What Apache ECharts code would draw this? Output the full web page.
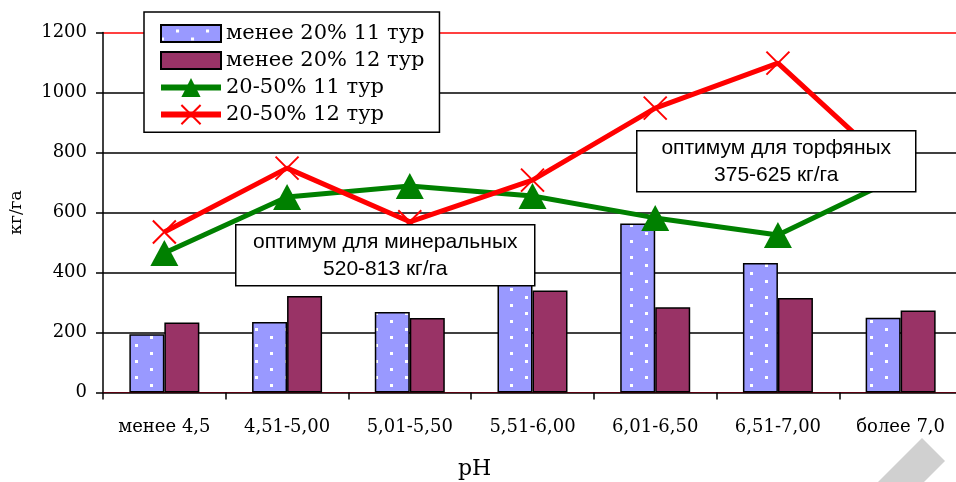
<!DOCTYPE html>
<html>
<head>
<meta charset="utf-8">
<script src="https://cdn.jsdelivr.net/npm/echarts@6/dist/echarts.min.js"></script>
<style>
html,body{margin:0;padding:0;background:#fff;}
#chart{width:956px;height:482px;}
</style>
</head>
<body>
<div id="chart"></div>
<script>
const categories = ['менее 4,5', '4,51-5,00', '5,01-5,50', '5,51-6,00', '6,01-6,50', '6,51-7,00', 'более 7,0'];
const seriesNames = ['менее 20% 11 тур', 'менее 20% 12 тур', '20-50% 11 тур', '20-50% 12 тур'];
const bar11 = [194, 235, 268, 365, 563, 432, 249];
const bar12 = [233, 322, 248, 340, 284, 315, 273];
const line11 = [465, 652, 688, 655, 582, 525, 722];
const line12 = [535, 748, 569, 708, 948, 1098, 722];
const yMin = 0, yMax = 1200, yStep = 200;
const note1 = ['оптимум для минеральных', '520-813 кг/га'];
const note2 = ['оптимум для торфяных', '375-625 кг/га'];
const yName = 'кг/га';
const xName = 'pH';

const SERIF = '"DejaVu Serif", "Liberation Serif", serif';
const SANS = '"Liberation Sans", Arial, sans-serif';

// dotted pattern for blue bars
const pc = document.createElement('canvas');
pc.width = 30; pc.height = 16;
const px = pc.getContext('2d');
px.fillStyle = '#9999FF'; px.fillRect(0, 0, 30, 16);
px.fillStyle = '#FFFFFF';
px.fillRect(0, 0, 3, 3);
px.fillRect(15, 8, 3, 3);

const chart = echarts.init(document.getElementById('chart'), null, {renderer: 'canvas'});

function noteBox(x, y, w, h, lines) {
  return {
    type: 'group', left: x, top: y, z: 100,
    children: [
      {type: 'rect', z: 100, shape: {x: 0, y: 0, width: w, height: h},
       style: {fill: '#fff', stroke: '#000', lineWidth: 1.5}},
      {type: 'text', z: 101, x: w / 2, y: h / 2,
       style: {text: lines.join('\n'), font: '21px ' + SANS, fill: '#000',
               align: 'center', verticalAlign: 'middle', lineHeight: 27}}
    ]
  };
}

const barIcon = 'path://M0,0H60V17H0Z';

const option = {
  animation: false,
  backgroundColor: '#fff',
  grid: {left: 103, top: 32.5, width: 859, height: 360, containLabel: false, outerBoundsMode: 'none'},
  legend: {
    orient: 'vertical', left: 144, top: 12,
    padding: [11, 15, 7, 14], itemGap: 6, itemWidth: 60, itemHeight: 24,
    symbolKeepAspect: true,
    backgroundColor: '#fff', borderColor: '#000', borderWidth: 1.5,
    textStyle: {fontFamily: SERIF, fontSize: 21, color: '#000'},
    data: [
      {name: seriesNames[0], icon: barIcon},
      {name: seriesNames[1], icon: barIcon},
      {name: seriesNames[2], lineStyle: {width: 6}},
      {name: seriesNames[3], lineStyle: {width: 6}}
    ]
  },
  xAxis: {
    type: 'category', data: categories, boundaryGap: true,
    axisLine: {lineStyle: {color: '#5a0010', width: 1}},
    axisTick: {show: true, interval: 0, length: 7, lineStyle: {color: '#000', width: 1.5}},
    axisLabel: {interval: 0, margin: 26, fontFamily: SERIF, fontSize: 18, color: '#000'},
    splitLine: {show: false}
  },
  yAxis: {
    type: 'value', min: yMin, max: yMax, interval: yStep,
    name: yName, nameLocation: 'middle', nameGap: 78, nameRotate: 90,
    nameTextStyle: {fontFamily: SERIF, fontSize: 17, color: '#000'},
    axisLine: {show: true, lineStyle: {color: '#000', width: 1.5}},
    axisTick: {show: true, length: 7, lineStyle: {color: '#000', width: 1.5}},
    axisLabel: {margin: 16, fontFamily: SERIF, fontSize: 18, color: '#000',
                formatter: function (v) { return String(v); }},
    splitLine: {show: true, lineStyle: {color: ['#000', '#000', '#000', '#000', '#000', '#000', '#FF0000'], width: 1.5}}
  },
  series: [
    {name: seriesNames[0], type: 'bar', data: bar11, barWidth: 35, barGap: '0%',
     itemStyle: {color: {image: pc, repeat: 'repeat'}, borderColor: '#000', borderWidth: 1.5}},
    {name: seriesNames[1], type: 'bar', data: bar12, barWidth: 35, barGap: '0%',
     itemStyle: {color: '#993366', borderColor: '#000', borderWidth: 1.5}},
    {name: seriesNames[2], type: 'line', data: line11, z: 5,
     symbol: 'triangle', symbolSize: [28, 26],
     lineStyle: {color: '#008000', width: 5},
     itemStyle: {color: '#008000'}},
    {name: seriesNames[3], type: 'line', data: line12, z: 6,
     symbol: 'path://M0,0L10,10M10,0L0,10', symbolSize: 23,
     lineStyle: {color: '#FF0000', width: 5},
     itemStyle: {color: '#FF0000', borderColor: '#FF0000', borderWidth: 2}}
  ],
  graphic: [
    noteBox(235, 224, 299, 61, note1),
    noteBox(636, 130, 279, 61, note2),
    {type: 'text', left: 458, top: 458, z: 50,
     style: {text: xName, font: '22px ' + SERIF, fill: '#000'}},
    {type: 'polygon', z: 1, shape: {points: [[922, 438], [945, 461], [924, 482], [878, 482]]},
     style: {fill: '#d0d0d0'}}
  ]
};
chart.setOption(option);
</script>
</body>
</html>
